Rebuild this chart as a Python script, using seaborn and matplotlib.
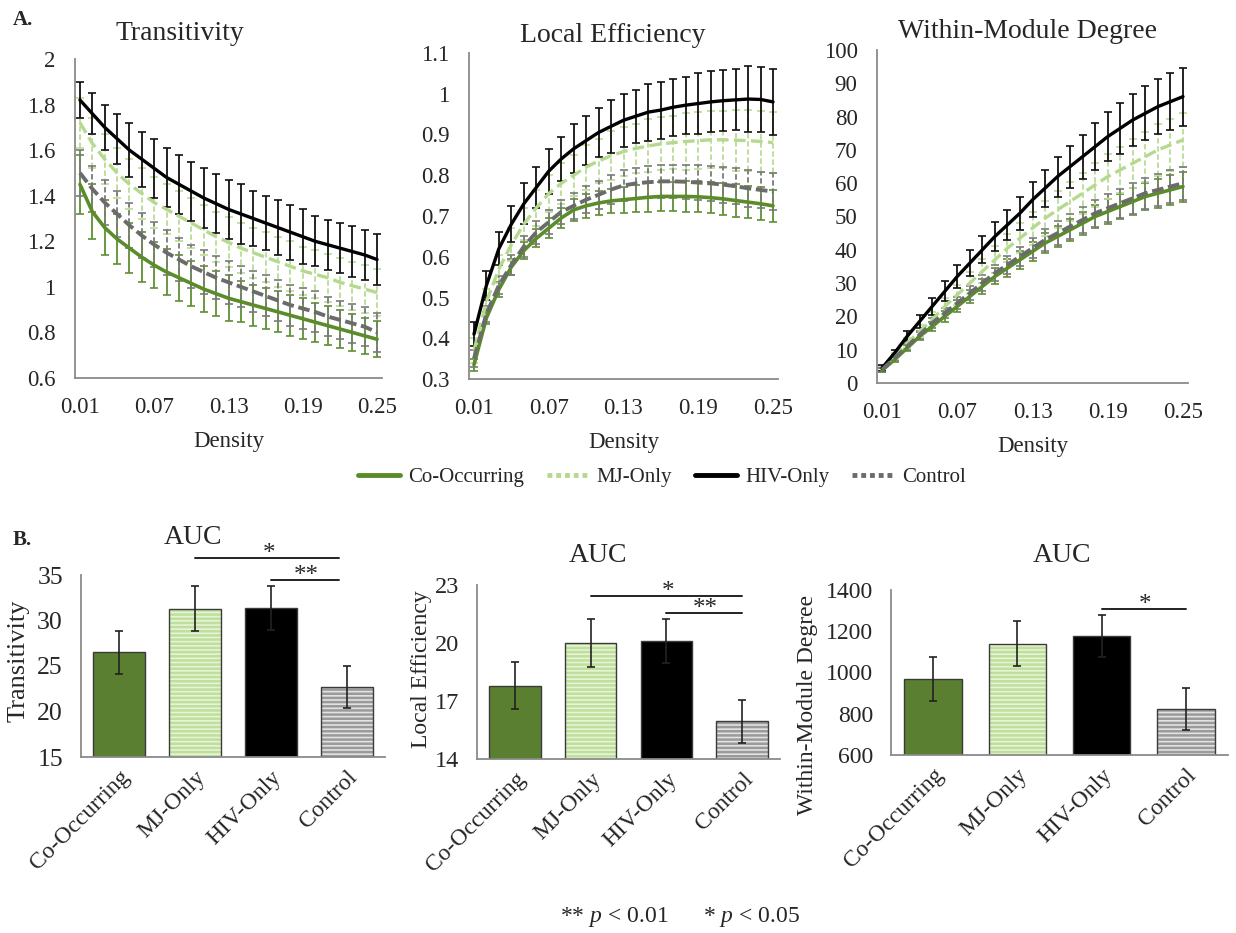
import numpy as np
import pandas as pd
import matplotlib.pyplot as plt
import seaborn as sns
from matplotlib.lines import Line2D
from matplotlib.patches import Rectangle

W, H = 1236, 933

# data
groups = ['Co-Occurring', 'MJ-Only', 'HIV-Only', 'Control']
density = [0.01, 0.02, 0.03, 0.04, 0.05, 0.06, 0.07, 0.08, 0.09, 0.10, 0.11, 0.12, 0.13,
           0.14, 0.15, 0.16, 0.17, 0.18, 0.19, 0.20, 0.21, 0.22, 0.23, 0.24, 0.25]

# transitivity
trans_co = [1.45, 1.33, 1.26, 1.21, 1.17, 1.13, 1.095, 1.065, 1.04, 1.015, 0.99, 0.97, 0.95,
            0.935, 0.92, 0.905, 0.89, 0.875, 0.86, 0.845, 0.83, 0.815, 0.80, 0.785, 0.77]
trans_mj = [1.72, 1.63, 1.56, 1.50, 1.45, 1.41, 1.37, 1.34, 1.31, 1.28, 1.25, 1.22, 1.195,
            1.17, 1.15, 1.13, 1.11, 1.09, 1.07, 1.055, 1.04, 1.02, 1.005, 0.99, 0.975]
trans_hiv = [1.82, 1.76, 1.70, 1.65, 1.60, 1.56, 1.52, 1.48, 1.45, 1.42, 1.39, 1.365, 1.34,
             1.32, 1.30, 1.28, 1.26, 1.24, 1.22, 1.20, 1.185, 1.17, 1.155, 1.14, 1.12]
trans_ctrl = [1.50, 1.43, 1.37, 1.32, 1.27, 1.225, 1.185, 1.15, 1.12, 1.09, 1.065, 1.04, 1.02,
              1.00, 0.98, 0.96, 0.94, 0.92, 0.905, 0.89, 0.87, 0.855, 0.84, 0.825, 0.80]
trans_co_err = [0.13, 0.12, 0.12, 0.11, 0.11, 0.11, 0.10, 0.10, 0.10, 0.10, 0.10, 0.10, 0.10,
                0.09, 0.09, 0.09, 0.09, 0.09, 0.09, 0.085, 0.085, 0.085, 0.08, 0.08, 0.08]
trans_mj_err = [0.11, 0.11, 0.11, 0.11, 0.11, 0.11, 0.11, 0.11, 0.11, 0.11, 0.11, 0.11, 0.11,
                0.11, 0.11, 0.11, 0.11, 0.11, 0.105, 0.105, 0.105, 0.105, 0.105, 0.105, 0.105]
trans_hiv_err = [0.08, 0.09, 0.10, 0.11, 0.12, 0.12, 0.13, 0.13, 0.13, 0.13, 0.13, 0.13, 0.13,
                 0.13, 0.12, 0.12, 0.12, 0.12, 0.12, 0.11, 0.11, 0.11, 0.11, 0.11, 0.11]
trans_ctrl_err = [0.10, 0.10, 0.10, 0.10, 0.10, 0.10, 0.10, 0.10, 0.095, 0.095, 0.095, 0.095, 0.095,
                  0.09, 0.09, 0.09, 0.09, 0.09, 0.09, 0.09, 0.085, 0.085, 0.085, 0.085, 0.085]

# local efficiency
le_co = [0.335, 0.45, 0.52, 0.575, 0.615, 0.645, 0.67, 0.695, 0.715, 0.725, 0.732, 0.737, 0.74,
         0.743, 0.746, 0.748, 0.748, 0.748, 0.747, 0.745, 0.742, 0.738, 0.734, 0.73, 0.725]
le_mj = [0.37, 0.49, 0.57, 0.63, 0.68, 0.72, 0.755, 0.78, 0.80, 0.82, 0.835, 0.848, 0.858,
         0.866, 0.872, 0.877, 0.88, 0.883, 0.885, 0.887, 0.887, 0.886, 0.885, 0.883, 0.88]
le_hiv = [0.41, 0.53, 0.62, 0.68, 0.73, 0.77, 0.81, 0.84, 0.865, 0.885, 0.905, 0.92, 0.935,
          0.945, 0.955, 0.96, 0.967, 0.972, 0.976, 0.98, 0.983, 0.985, 0.987, 0.986, 0.98]
le_ctrl = [0.35, 0.46, 0.53, 0.58, 0.625, 0.66, 0.685, 0.71, 0.725, 0.74, 0.752, 0.765, 0.775,
           0.78, 0.783, 0.785, 0.785, 0.784, 0.782, 0.78, 0.777, 0.773, 0.768, 0.764, 0.76]
le_co_err = [0.015, 0.015, 0.018, 0.02, 0.02, 0.022, 0.025, 0.025, 0.027, 0.03, 0.03, 0.03, 0.032,
             0.033, 0.035, 0.035, 0.036, 0.037, 0.038, 0.038, 0.039, 0.04, 0.04, 0.04, 0.04]
le_mj_err = [0.03, 0.03, 0.035, 0.04, 0.04, 0.045, 0.045, 0.05, 0.05, 0.055, 0.055, 0.06, 0.06,
             0.06, 0.065, 0.065, 0.065, 0.07, 0.07, 0.07, 0.07, 0.075, 0.075, 0.075, 0.075]
le_hiv_err = [0.03, 0.035, 0.04, 0.045, 0.05, 0.05, 0.055, 0.055, 0.06, 0.06, 0.06, 0.065, 0.065,
              0.065, 0.07, 0.07, 0.07, 0.07, 0.075, 0.075, 0.075, 0.075, 0.08, 0.08, 0.08]
le_ctrl_err = [0.02, 0.02, 0.022, 0.025, 0.025, 0.028, 0.03, 0.03, 0.032, 0.033, 0.035, 0.035, 0.037,
               0.038, 0.04, 0.04, 0.04, 0.042, 0.042, 0.043, 0.044, 0.044, 0.045, 0.045, 0.045]

# within-module degree
wmd_co = [3.8, 7, 10.5, 14, 17, 20, 23, 26, 29, 32, 34.5, 37, 39.5,
          42, 44, 46, 48, 50, 51.5, 53, 54.5, 56, 57, 58, 59]
wmd_mj = [4.3, 8, 12, 15.5, 19, 23, 26.5, 30, 33.5, 37, 40.5, 43.5, 46.5,
          49.5, 52, 54.5, 57, 59.5, 62, 64, 66, 68, 70, 71.5, 73]
wmd_hiv = [4.5, 9, 14, 18.5, 23, 27.5, 32, 36, 40, 44, 47.5, 51, 55,
           58.5, 62, 65, 68, 71, 74, 76.5, 79, 81, 83, 84.5, 86]
wmd_ctrl = [4, 7.5, 11, 14.5, 18, 21, 24, 27, 30, 33, 35.5, 38, 40.5,
            43, 45, 47, 49, 51, 52.5, 54, 55.5, 57, 58, 59, 60]
wmd_co_err = [0.6, 0.8, 1.0, 1.2, 1.4, 1.6, 1.8, 2.0, 2.2, 2.4, 2.6, 2.7, 2.9,
              3.0, 3.2, 3.3, 3.5, 3.6, 3.8, 3.9, 4.0, 4.1, 4.3, 4.4, 4.5]
wmd_mj_err = [0.8, 1.0, 1.4, 1.8, 2.2, 2.6, 3.0, 3.3, 3.6, 4.0, 4.3, 4.6, 5.0,
              5.3, 5.6, 5.9, 6.2, 6.5, 6.8, 7.0, 7.3, 7.5, 7.7, 7.9, 8.0]
wmd_hiv_err = [1.0, 1.0, 1.5, 2.0, 2.5, 3.0, 3.5, 3.8, 4.0, 4.3, 4.6, 5.0, 5.3,
               5.6, 6.0, 6.3, 6.6, 7.0, 7.3, 7.6, 7.9, 8.1, 8.3, 8.5, 8.7]
wmd_ctrl_err = [0.6, 0.8, 1.0, 1.2, 1.4, 1.6, 1.9, 2.1, 2.3, 2.5, 2.7, 2.9, 3.1,
                3.3, 3.5, 3.7, 3.9, 4.1, 4.3, 4.4, 4.6, 4.7, 4.8, 4.9, 5.0]

# area under curve
auc_trans = [26.5, 31.3, 31.4, 22.7]
auc_trans_err = [2.4, 2.5, 2.4, 2.35]
auc_le = [17.8, 20.0, 20.1, 15.95]
auc_le_err = [1.2, 1.25, 1.15, 1.1]
auc_wmd = [970, 1140, 1175, 825]
auc_wmd_err = [107, 108, 102, 102]

sns.set_style('white')
plt.rcParams['font.family'] = ['Liberation Serif', 'DejaVu Serif']
plt.rcParams['mathtext.fontset'] = 'custom'
plt.rcParams['mathtext.rm'] = 'Liberation Serif'
plt.rcParams['mathtext.it'] = 'Liberation Serif:italic'
plt.rcParams['hatch.linewidth'] = 1.8

line_colors = {'Co-Occurring': '#5b8c2a', 'MJ-Only': '#b5d98e', 'HIV-Only': '#000000', 'Control': '#6b6b6b'}
err_colors = {'Co-Occurring': '#5f8f34', 'MJ-Only': '#b9dc95', 'HIV-Only': '#111111', 'Control': '#7a7a7a'}
line_styles = {'Co-Occurring': '-', 'MJ-Only': (0, (3.5, 1.6)), 'HIV-Only': '-', 'Control': (0, (3.0, 1.2))}
line_widths = {'Co-Occurring': 2.6, 'MJ-Only': 2.4, 'HIV-Only': 2.4, 'Control': 2.8}
bar_colors = {'Co-Occurring': '#5b8c24', 'MJ-Only': '#cde6b0', 'HIV-Only': '#000000', 'Control': '#c4c4c4'}
stripes = {'MJ-Only': ('#e6f3d6', '#bfdf9c'), 'Control': ('#e2e2e2', '#9a9a9a')}
spine_color = '#8a8a8a'

fig = plt.figure(figsize=(W / 100, H / 100), dpi=100)


def box(l, t, r, b):
    return [l / W, 1 - b / H, (r - l) / W, (b - t) / H]


def ftext(x, y, s, **kw):
    fig.text(x / W, 1 - y / H, s, ha=kw.pop('ha', 'center'), va=kw.pop('va', 'center'), **kw)


def style_axes(ax):
    sns.despine(ax=ax)
    for sp in ['left', 'bottom']:
        ax.spines[sp].set_color(spine_color)
        ax.spines[sp].set_linewidth(1.3)
    ax.tick_params(length=0)


line_panels = [
    ('Transitivity', [trans_co, trans_mj, trans_hiv, trans_ctrl],
     [trans_co_err, trans_mj_err, trans_hiv_err, trans_ctrl_err],
     box(75, 59, 382, 378), (0.6, 2.0), [0.6, 0.8, 1, 1.2, 1.4, 1.6, 1.8, 2], (180, 33)),
    ('Local Efficiency', [le_co, le_mj, le_hiv, le_ctrl],
     [le_co_err, le_mj_err, le_hiv_err, le_ctrl_err],
     box(469, 53, 778, 379), (0.3, 1.1), [0.3, 0.4, 0.5, 0.6, 0.7, 0.8, 0.9, 1, 1.1], (613, 35)),
    ('Within-Module Degree', [wmd_co, wmd_mj, wmd_hiv, wmd_ctrl],
     [wmd_co_err, wmd_mj_err, wmd_hiv_err, wmd_ctrl_err],
     box(877, 50, 1188, 383), (0, 100), list(range(0, 101, 10)), (1027, 32)),
]

for title, series, errs, pos, ylim, yticks, tpos in line_panels:
    ax = fig.add_axes(pos)
    df = pd.DataFrame({'density': density * 4,
                       'value': sum(series, []),
                       'group': np.repeat(groups, len(density))})
    for g, e in zip(groups, errs):
        sub = df[df['group'] == g]
        eb = ax.errorbar(sub['density'], sub['value'], yerr=e, fmt='none',
                         ecolor=err_colors[g], elinewidth=1.3, capsize=3, capthick=1.2, zorder=1)
        if g in ('MJ-Only', 'Control'):
            eb[2][0].set_linestyle((0, (3, 1.5)))
        sns.lineplot(data=sub, x='density', y='value', color=line_colors[g],
                     linestyle=line_styles[g], linewidth=line_widths[g], ax=ax, zorder=2)
    ax.set_xlim(0.006, 0.254)
    ax.set_ylim(*ylim)
    ax.set_xticks([0.01, 0.07, 0.13, 0.19, 0.25])
    ax.set_xticklabels(['0.01', '0.07', '0.13', '0.19', '0.25'])
    ax.set_yticks(yticks)
    ax.set_yticklabels(['{:g}'.format(v) for v in yticks])
    style_axes(ax)
    ax.tick_params(labelsize=16.5, pad=14)
    ax.set_xlabel('Density', fontsize=16.5, labelpad=9)
    ax.set_ylabel('')
    ftext(tpos[0], tpos[1], title, fontsize=20)

bar_panels = [
    ('Transitivity', auc_trans, auc_trans_err, box(81, 575, 385, 757), (15, 35), [15, 20, 25, 30, 35],
     [(1, 2.9, 36.9, '*'), (2, 2.9, 34.45, '**')], (193, 537), (19, 661), 18.5, 19),
    ('Local Efficiency', auc_le, auc_le_err, box(477, 585, 780, 759), (14, 23), [14, 17, 20, 23],
     [(1, 3.0, 22.43, '*'), (2, 3.0, 21.55, '**')], (598, 555), (422, 669), 17.5, 17),
    ('Within-Module Degree', auc_wmd, auc_wmd_err, box(891, 590, 1228, 755), (600, 1400),
     [600, 800, 1000, 1200, 1400], [(2, 3.0, 1308, '*')], (1062, 555), (808, 705), 17, 17),
]

for ylabel, vals, errs, pos, ylim, yticks, sig, tpos, lpos, tsize, lsize in bar_panels:
    ax = fig.add_axes(pos)
    sns.barplot(x=groups, y=vals, hue=groups, palette=bar_colors, legend=False, ax=ax,
                width=0.68, edgecolor='#3a3a3a', linewidth=1.0, errorbar=None)
    for p, g in zip(sorted(ax.patches, key=lambda q: q.get_x()), groups):
        if g in stripes:
            face, line = stripes[g]
            p.set_facecolor(face)
            p.set_edgecolor(line)
            p.set_linewidth(0)
            p.set_hatch('----')
            ax.add_patch(Rectangle(p.get_xy(), p.get_width(), p.get_height(), fill=False,
                                   edgecolor='#3a3a3a', linewidth=1.0, zorder=p.get_zorder() + 0.1))
    ax.errorbar(np.arange(len(groups)), vals, yerr=errs, fmt='none', ecolor='#222222',
                elinewidth=1.2, capsize=3, capthick=1.2, zorder=4)
    for x0, x1, y, label in sig:
        ax.plot([x0, x1], [y, y], color='#222222', lw=1.4, clip_on=False)
        ax.annotate(label, ((x0 + x1) / 2, y), xytext=(1, -5), textcoords='offset points',
                    ha='center', va='bottom', fontsize=18, annotation_clip=False)
    ax.set_xlim(-0.5, 3.5)
    ax.set_ylim(*ylim)
    ax.set_yticks(yticks)
    style_axes(ax)
    ax.tick_params(axis='y', labelsize=tsize, pad=13)
    ax.tick_params(axis='x', labelsize=17, pad=7)
    for lab in ax.get_xticklabels():
        lab.set_rotation(45)
        lab.set_ha('right')
        lab.set_va('top')
        lab.set_rotation_mode('anchor')
    ax.set_xlabel('')
    ax.set_ylabel('')
    ftext(tpos[0], tpos[1], 'AUC', fontsize=20)
    ftext(lpos[0], lpos[1], ylabel, fontsize=lsize, rotation=90)

handles = [Line2D([], [], color=line_colors['Co-Occurring'], lw=3.5),
           Line2D([], [], color=line_colors['MJ-Only'], lw=3.5, linestyle=(0, (1, 0.8))),
           Line2D([], [], color=line_colors['HIV-Only'], lw=3.5),
           Line2D([], [], color=line_colors['Control'], lw=3.5, linestyle=(0, (1, 0.8)))]
fig.legend(handles, groups, loc='center', bbox_to_anchor=(662 / W, 1 - 477 / H), ncol=4,
           frameon=False, fontsize=15, handlelength=2.0, columnspacing=1.1, handletextpad=0.4)

ftext(13, 20, 'A.', fontsize=15, fontweight='bold', ha='left')
ftext(13, 540, 'B.', fontsize=15, fontweight='bold', ha='left')
ftext(680, 917, r'** $p$ < 0.01      * $p$ < 0.05', fontsize=17)

fig.savefig('out.png', dpi=100)
